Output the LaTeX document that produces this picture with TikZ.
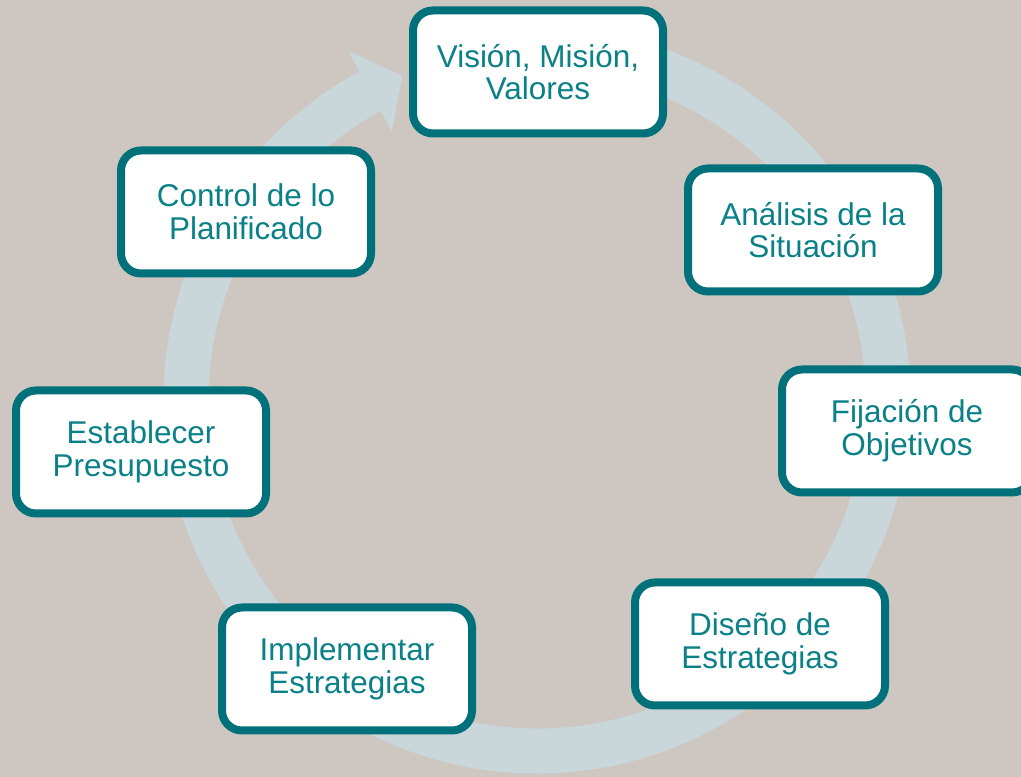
\documentclass[tikz,border=0pt]{standalone}
\usepackage{fontspec}
\setmainfont{Liberation Sans}
\usetikzlibrary{shadows}
\definecolor{bgtaupe}{HTML}{CEC6C0}
\definecolor{ringblue}{HTML}{C9D6DA}
\definecolor{tealdark}{HTML}{00717A}
\definecolor{tealtext}{HTML}{0A8088}

\tikzset{
  paso/.style={draw=tealdark, line width=6pt, fill=white, rounded corners=15pt,
    minimum width=187.5pt, minimum height=92.25pt, align=center, text=tealtext,
    font=\fontsize{23.6}{24.5}\selectfont,
    drop shadow={shadow xshift=0.6pt, shadow yshift=-1.8pt, opacity=0.25, fill=black}},
  ciclo/.style={draw=ringblue, line width=33.75pt}
}

\begin{document}
\begin{tikzpicture}[x=0.75pt,y=0.75pt]
\fill[bgtaupe] (0,0) rectangle (1021,777);
\useasboundingbox (0,0) rectangle (1021,777);
\coordinate (C) at (537,377);

% ring with arrow head
\draw[ciclo] (C) ++(85:351) arc[start angle=85, end angle=-242, radius=351];
\fill[ringblue] ([shift={(118.4:397)}]C) -- ([shift={(112.6:351)}]C)
  -- ([shift={(118.4:305)}]C) -- cycle;

\node[paso] (vision) at (538,705) {Visión, Misión,\\Valores};
\node[paso] (analisis) at (813,547) {Análisis de la\\Situación};
\node[paso] (fijacion) at (907,346) {Fijación de\\Objetivos};
\node[paso] (diseno) at (760,133) {Diseño de\\Estrategias};
\node[paso] (implementar) at (347,108) {Implementar\\Estrategias};
\node[paso] (presupuesto) at (141,325) {Establecer\\Presupuesto};
\node[paso] (control) at (246,565) {Control de lo\\Planificado};
\end{tikzpicture}
\end{document}
